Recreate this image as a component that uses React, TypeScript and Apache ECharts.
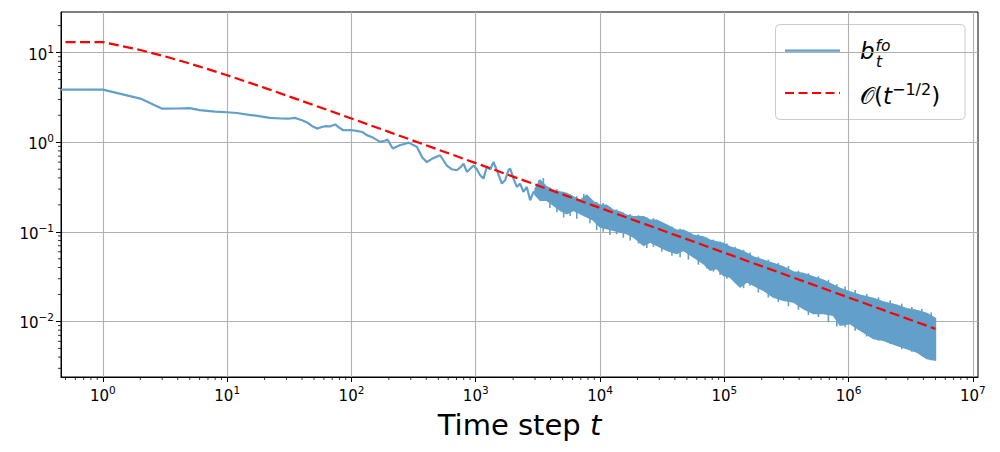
import React, { useEffect, useRef } from "react";
import * as echarts from "echarts";

// Axis ranges
const X_MIN = 0.46;
const X_MAX = 1.1e7;
const Y_MIN = 0.0024;
const Y_MAX = 28.4;

const xMajorTicks = [1, 10, 100, 1e3, 1e4, 1e5, 1e6, 1e7];
const yMajorTicks = [0.01, 0.1, 1, 10];

// b_t^{fo}: early (thin line) part
const earlyT = [
  0.46, 1, 2, 3, 4, 5, 6, 8, 10, 12, 15, 18, 22, 27, 31, 35, 40, 44, 48, 53, 57, 61, 67, 74, 80, 86, 98,
  110, 122, 133, 150, 170, 185, 195, 215, 247, 270, 288, 310, 336, 370, 404, 450, 517, 585, 640, 704, 760,
  797, 850, 958, 1020, 1085, 1153, 1228, 1310, 1388, 1479, 1622, 1724, 1833, 1892, 2011, 2142, 2275, 2420,
  2576, 2740, 2912, 3102, 3257, 3400,
];
const earlyB = [
  3.86, 3.86, 3.07, 2.37, 2.38, 2.4, 2.28, 2.2, 2.16, 2.12, 2.02, 1.96, 1.87, 1.84, 1.83, 1.87, 1.76, 1.66,
  1.52, 1.42, 1.47, 1.51, 1.5, 1.58, 1.45, 1.36, 1.37, 1.34, 1.3, 1.2, 1.12, 1.01, 1.04, 1.07, 0.85, 0.93,
  0.96, 0.99, 0.94, 0.89, 0.68, 0.6, 0.66, 0.716, 0.55, 0.5, 0.487, 0.53, 0.578, 0.466, 0.55, 0.5, 0.428,
  0.393, 0.53, 0.5, 0.603, 0.487, 0.346, 0.377, 0.487, 0.509, 0.393, 0.317, 0.346, 0.279, 0.317, 0.225,
  0.279, 0.268, 0.377, 0.235,
];

// b_t^{fo}: dense noisy band (upper / lower envelope)
const bandT = [
  3000, 3300, 3730, 4220, 4780, 5410, 6110, 6920, 7830, 8850, 10000, 11300, 12800, 14500, 16400, 18600,
  22400, 25300, 28600, 34500, 41500, 46900, 56400, 67900, 76900, 87000, 98400, 111000, 134000, 152000,
  171000, 206000, 248000, 299000, 360000, 433000, 521000, 627000, 755000, 855000, 1028000, 1239000,
  1585000, 1907000, 2442000, 2940000, 3539000, 4260000, 5000000,
];
const bandUpper = [
  0.3, 0.377, 0.317, 0.291, 0.279, 0.268, 0.245, 0.225, 0.256, 0.216, 0.198, 0.198, 0.174, 0.167, 0.153,
  0.147, 0.147, 0.135, 0.135, 0.1185, 0.104, 0.104, 0.0916, 0.0877, 0.0805, 0.0771, 0.074, 0.0678, 0.0623,
  0.0573, 0.0525, 0.0482, 0.0443, 0.0406, 0.0357, 0.0342, 0.0314, 0.0288, 0.0254, 0.0233, 0.0213, 0.0196,
  0.018, 0.0165, 0.0152, 0.0139, 0.0133, 0.01225, 0.0108,
];
const bandLower = [
  0.26, 0.225, 0.225, 0.198, 0.174, 0.16, 0.174, 0.16, 0.147, 0.135, 0.1135, 0.109, 0.104, 0.0998, 0.0957,
  0.0877, 0.0708, 0.0771, 0.0708, 0.0623, 0.0573, 0.0623, 0.0525, 0.0443, 0.0373, 0.039, 0.0328, 0.0314,
  0.0243, 0.0276, 0.0254, 0.0223, 0.01877, 0.01724, 0.01651, 0.01393, 0.01225, 0.01225, 0.01172, 0.00908,
  0.00948, 0.00798, 0.00645, 0.00617, 0.00542, 0.00498, 0.00457, 0.00386, 0.0037,
];

// b_t^{fo}: individual excursions poking out of the band
const spikeT = [
  3500, 3950, 4500, 5100, 5750, 6500, 7400, 8300, 9400, 10600, 12000, 13600, 15400, 17500, 20400, 23800,
  26900, 31400, 37900, 44100, 51400, 61800, 72300, 81800, 92500, 105000, 122000, 143000, 161000, 188000,
  226000, 272000, 328000, 395000, 475000, 572000, 688000, 804000, 938000, 1130000, 1400000, 1740000,
  2160000, 2680000, 3230000, 3880000, 4620000,
];
const spikeHi = [
  0.4, 0.31, 0.3, 0.28, 0.262, 0.25, 0.265, 0.235, 0.215, 0.21, 0.19, 0.178, 0.165, 0.158, 0.153, 0.145,
  0.142, 0.128, 0.115, 0.108, 0.1, 0.094, 0.086, 0.082, 0.078, 0.074, 0.068, 0.063, 0.059, 0.053, 0.049,
  0.045, 0.0415, 0.037, 0.0345, 0.032, 0.0292, 0.026, 0.0245, 0.0225, 0.0203, 0.0186, 0.0172, 0.0158,
  0.0145, 0.0138, 0.0126,
];
const spikeLo = [
  0.24, 0.185, 0.165, 0.145, 0.15, 0.14, 0.15, 0.125, 0.105, 0.1, 0.092, 0.094, 0.086, 0.08, 0.074, 0.066,
  0.068, 0.06, 0.054, 0.052, 0.049, 0.043, 0.039, 0.036, 0.033, 0.03, 0.027, 0.0235, 0.025, 0.021, 0.0185,
  0.0165, 0.0148, 0.0135, 0.0118, 0.0112, 0.0098, 0.0088, 0.0086, 0.0079, 0.0068, 0.0061, 0.0056, 0.0049,
  0.0046, 0.0041, 0.0037,
];

// O(t^{-1/2}) reference curve
const boundT = [0.46, 1, 2, 3, 5, 7, 10, 15, 20, 30, 50, 100, 200, 500, 1000, 1e4, 1e5, 1e6, 5e6];
const boundV = [
  13.1, 13.1, 10.7, 9.25, 7.55, 6.54, 5.58, 4.63, 4.04, 3.32, 2.59, 1.84, 1.305, 0.826, 0.585, 0.185,
  0.0585, 0.0185, 0.00827,
];

const FONT = "DejaVu Sans";
const BLUE = "#62a0ca"; // tab:blue at alpha 0.7 on white
const DASH = [10, 4.5];

function minorTicks(lo: number, hi: number): number[] {
  const out: number[] = [];
  for (let k = -4; k <= 8; k++) {
    for (let m = 2; m <= 9; m++) {
      const v = m * Math.pow(10, k);
      if (v > lo && v < hi) out.push(v);
    }
  }
  return out;
}

function powLabel(value: number): string {
  const e = Math.round(Math.log10(value));
  const s = e < 0 ? "\u2212" + String(-e) : String(e);
  return "{b|10}{s|" + s + "}";
}

const labelRich = {
  b: { fontSize: 15, fontFamily: FONT, color: "#000", verticalAlign: "bottom", lineHeight: 18 },
  s: { fontSize: 10.5, fontFamily: FONT, color: "#000", verticalAlign: "bottom", padding: [0, 0, 8, 0] },
};

export default function App() {
  const ref = useRef<HTMLDivElement>(null);
  useEffect(() => {
    if (!ref.current) return;
    const chart = echarts.init(ref.current, undefined, { renderer: "svg" });
    const xMinor = minorTicks(X_MIN, X_MAX);
    const yMinor = minorTicks(Y_MIN, Y_MAX);

    const option: any = {
      animation: false,
      grid: {
        left: 61,
        top: 12,
        right: 22,
        bottom: 75,
        show: true,
        borderColor: "#000",
        borderWidth: 1,
        backgroundColor: "transparent",
      },
      xAxis: {
        type: "log",
        logBase: 10,
        min: X_MIN,
        max: X_MAX,
        name: "{n|Time step }{t|t}",
        nameLocation: "middle",
        nameGap: 33,
        nameTextStyle: {
          rich: {
            n: { fontSize: 29, fontFamily: FONT, color: "#000" },
            t: { fontSize: 29, fontFamily: FONT, fontStyle: "italic", color: "#000" },
          },
        },
        axisLine: { show: true, lineStyle: { color: "#000", width: 1 } },
        axisTick: { show: true, length: 5, lineStyle: { color: "#000", width: 1 }, customValues: xMajorTicks },
        axisLabel: {
          show: true,
          margin: 7,
          formatter: powLabel,
          rich: labelRich,
          customValues: xMajorTicks,
        },
        splitLine: { show: true, lineStyle: { color: "#b0b0b0", width: 1.1 } },
      },
      yAxis: {
        type: "log",
        logBase: 10,
        min: Y_MIN,
        max: Y_MAX,
        axisLine: { show: true, lineStyle: { color: "#000", width: 1 } },
        axisTick: { show: true, length: 5, lineStyle: { color: "#000", width: 1 }, customValues: yMajorTicks },
        axisLabel: {
          show: true,
          margin: 7,
          formatter: powLabel,
          rich: labelRich,
          customValues: yMajorTicks,
        },
        splitLine: { show: true, lineStyle: { color: "#b0b0b0", width: 1.1 } },
      },
      series: [
        {
          name: "b",
          type: "line",
          data: earlyT.map((t, i) => [t, earlyB[i]]),
          showSymbol: false,
          symbol: "none",
          lineStyle: { color: BLUE, width: 2.2 },
          z: 2,
          silent: true,
        },
        {
          name: "band",
          type: "custom",
          data: [[bandT[0], bandUpper[0]]],
          silent: true,
          z: 2,
          renderItem: (_params: any, api: any) => {
            const pts: number[][] = [];
            for (let i = 0; i < bandT.length; i++) pts.push(api.coord([bandT[i], bandUpper[i]]));
            for (let i = bandT.length - 1; i >= 0; i--) pts.push(api.coord([bandT[i], bandLower[i]]));
            return {
              type: "polygon",
              shape: { points: pts },
              style: { fill: BLUE, stroke: BLUE, lineWidth: 1.5 },
            };
          },
        },
        {
          name: "spikes",
          type: "custom",
          data: spikeT.map((t, i) => [t, spikeHi[i], spikeLo[i]]),
          silent: true,
          z: 2,
          renderItem: (_params: any, api: any) => {
            const a = api.coord([api.value(0), api.value(1)]);
            const b = api.coord([api.value(0), api.value(2)]);
            return {
              type: "line",
              shape: { x1: a[0], y1: a[1], x2: b[0], y2: b[1] },
              style: { stroke: BLUE, lineWidth: 1.6 },
            };
          },
        },
        {
          name: "O",
          type: "line",
          data: boundT.map((t, i) => [t, boundV[i]]),
          showSymbol: false,
          symbol: "none",
          lineStyle: { color: "#ff0000", width: 2.2, type: DASH, dashOffset: 10 },
          z: 3,
          silent: true,
        },
        {
          name: "xminor",
          type: "custom",
          data: xMinor.map((v) => [v, Y_MIN]),
          silent: true,
          clip: false,
          z: 5,
          renderItem: (_p: any, api: any) => {
            const p = api.coord([api.value(0), Y_MIN]);
            return {
              type: "line",
              shape: { x1: p[0], y1: p[1], x2: p[0], y2: p[1] + 3 },
              style: { stroke: "#000", lineWidth: 0.8 },
            };
          },
        },
        {
          name: "yminor",
          type: "custom",
          data: yMinor.map((v) => [X_MIN, v]),
          silent: true,
          clip: false,
          z: 5,
          renderItem: (_p: any, api: any) => {
            const p = api.coord([X_MIN, api.value(1)]);
            return {
              type: "line",
              shape: { x1: p[0], y1: p[1], x2: p[0] - 3, y2: p[1] },
              style: { stroke: "#000", lineWidth: 0.8 },
            };
          },
        },
      ],
      graphic: [
        {
          type: "group",
          z: 100,
          children: [
            {
              type: "rect",
              shape: { x: 775.5, y: 24.5, width: 189.5, height: 95, r: 4 },
              style: { fill: "rgba(255,255,255,0.8)", stroke: "#cccccc", lineWidth: 1 },
            },
            {
              type: "line",
              shape: { x1: 785, y1: 50.7, x2: 840, y2: 50.7 },
              style: { stroke: BLUE, lineWidth: 2.2 },
            },
            {
              type: "line",
              shape: { x1: 785, y1: 93, x2: 840, y2: 93 },
              style: { stroke: "#ff0000", lineWidth: 2.2, lineDash: [9, 4.5] },
            },
            {
              type: "text",
              style: {
                text: "b",
                x: 860,
                y: 51.3,
                fontSize: 23,
                fontFamily: FONT,
                fontStyle: "italic",
                fill: "#000",
                verticalAlign: "middle",
              },
            },
            {
              type: "text",
              style: {
                text: "fo",
                x: 875.5,
                y: 46.2,
                fontSize: 15.5,
                lineHeight: 12,
                fontFamily: FONT,
                fontStyle: "italic",
                fill: "#000",
                verticalAlign: "middle",
              },
            },
            {
              type: "text",
              style: {
                text: "t",
                x: 876,
                y: 62.4,
                fontSize: 15.5,
                lineHeight: 12,
                fontFamily: FONT,
                fontStyle: "italic",
                fill: "#000",
                verticalAlign: "middle",
              },
            },
            {
              type: "text",
              style: {
                text: "{o|\uD835\uDCAA}{p|(}{i|t}{s|\u22121/2}{p|)}",
                x: 860,
                y: 93,
                verticalAlign: "middle",
                rich: {
                  o: { fontSize: 23, fontFamily: FONT, fill: "#000", verticalAlign: "bottom", lineHeight: 28 },
                  p: { fontSize: 23, fontFamily: FONT, fill: "#000", verticalAlign: "bottom", lineHeight: 28 },
                  i: { fontSize: 23, fontFamily: FONT, fontStyle: "italic", fill: "#000", verticalAlign: "bottom", lineHeight: 28 },
                  s: { fontSize: 16, fontFamily: FONT, fill: "#000", verticalAlign: "bottom", padding: [0, 0, 10, 0] },
                },
              },
            },
          ],
        },
      ],
    };
    chart.setOption(option);
    return () => chart.dispose();
  }, []);
  return (
    <div
      ref={ref}
      style={{ position: "fixed", left: 0, top: 0, width: 1000, height: 452, background: "#fff" }}
    />
  );
}
